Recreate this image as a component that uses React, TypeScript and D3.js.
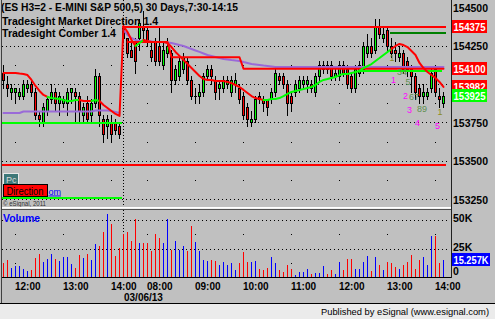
import React from "react";
import * as d3 from "d3";

const W = 495;
const H = 319;
const FONT = "'Liberation Sans', Arial, Helvetica, sans-serif";

const title = "(ES H3=2 - E-MINI S&P 500,5) 30 Days,7:30-14:15";
const study1 = "Tradesight Market Direction 1.4";
const study2 = "Tradesight Comber 1.4";

// 5-minute bars: slots 0-29 = 03/05 11:45-14:10, slots 30-110 = 03/06 07:30-14:10
const open = [
  154075, 154000, 153950, 153950, 153925, 153925, 153975, 154000, 153950, 153800, 153750, 153825, 153900, 153950, 153875,
  153875, 153875, 153950, 153950, 153925, 153800, 153875, 153800, 153875, 154050, 153775, 153725, 153750, 153750, 153725,
  154375, 154300, 154225, 154275, 154300, 154375, 154350, 154225, 154275, 154250, 154125, 154200, 154200, 154025, 154050,
  154100, 154150, 154025, 153925, 153925, 153950, 154050, 154100, 154025, 153975, 153975, 154000, 153950, 154000, 153975,
  153925, 153850, 153750, 153775, 153925, 153900, 153900, 153900, 153950, 154050, 154050, 154000, 153925, 153950, 153975,
  154000, 154000, 154000, 153950, 154050,
  154100, 154125, 154125, 154050, 154050, 154125, 154100, 154050, 153975, 154075, 154100, 154200, 154250, 154225, 154375,
  154300, 154350, 154250, 154225, 154175,
  154200, 154150, 154100, 154050, 153975, 153925, 153925, 153975, 154100, 153925, 153875,
];
const high = [
  154125, 154050, 154000, 153975, 153975, 154025, 154025, 154025, 153975, 153825, 153875, 153925, 154000, 153975, 153950,
  153925, 153975, 153975, 153975, 153950, 153875, 153925, 153900, 154100, 154075, 153800, 153800, 153800, 153775, 153750,
  154400, 154300, 154275, 154300, 154425, 154475, 154375, 154275, 154300, 154375, 154275, 154300, 154225, 154125, 154175,
  154200, 154175, 154050, 153975, 154000, 154075, 154125, 154125, 154050, 154025, 154050, 154050, 154050, 154075, 154000,
  153950, 153875, 153825, 153925, 153950, 153925, 153900, 153975, 154100, 154075, 154075, 154025, 153950, 154025, 154050,
  154050, 154050, 154025, 154075, 154150,
  154150, 154150, 154150, 154100, 154150, 154150, 154125, 154075, 154125, 154150, 154275, 154325, 154300, 154425, 154425,
  154375, 154375, 154300, 154275, 154250,
  154225, 154175, 154125, 154075, 154000, 154000, 153975, 154100, 154125, 153975, 153950,
];
const low = [
  153975, 153925, 153900, 153875, 153900, 153900, 153950, 153925, 153775, 153725, 153725, 153800, 153875, 153825, 153800,
  153850, 153800, 153875, 153750, 153750, 153750, 153750, 153750, 153850, 153725, 153625, 153650, 153625, 153675, 153650,
  154275, 154175, 154175, 154075, 154225, 154275, 154250, 154150, 154125, 154125, 154100, 154175, 153950, 154000, 154025,
  154075, 154000, 153900, 153875, 153875, 153925, 154025, 154000, 153900, 153900, 153950, 153975, 153925, 153950, 153875,
  153775, 153725, 153725, 153750, 153875, 153825, 153800, 153875, 153925, 154000, 153975, 153800, 153825, 153925, 153950,
  153975, 153950, 153950, 153925, 154025,
  154075, 154075, 154025, 154025, 154025, 154050, 153975, 153950, 153950, 154050, 154075, 154175, 154175, 154200, 154300,
  154275, 154225, 154175, 154150, 154150,
  154075, 154050, 153950, 153900, 153875, 153875, 153900, 153950, 153925, 153850, 153850,
];
const close = [
  154025, 153975, 153975, 153975, 153950, 154000, 154000, 153950, 153800, 153775, 153850, 153900, 153950, 153875, 153925,
  153900, 153950, 153975, 153925, 153825, 153850, 153775, 153875, 154050, 153800, 153675, 153775, 153675, 153700, 153675,
  154300, 154200, 154175, 154150, 154400, 154350, 154275, 154175, 154150, 154150, 154225, 154250, 154025, 154100, 154150,
  154175, 154025, 153925, 153925, 153950, 154050, 154100, 154050, 153950, 154000, 154025, 154025, 154025, 154025, 153900,
  153800, 153775, 153775, 153900, 153900, 153875, 153850, 153950, 154075, 154025, 154000, 153875, 153875, 154000, 154025,
  154025, 154025, 153975, 154050, 154125,
  154125, 154100, 154050, 154075, 154125, 154075, 154000, 153975, 154100, 154125, 154250, 154250, 154200, 154375, 154325,
  154325, 154250, 154200, 154200, 154200,
  154100, 154100, 154050, 153950, 153925, 153950, 153950, 154075, 153950, 153900, 153925,
];
// volume in thousands
const volumeK = [
  12.4, 15.3, 8, 9.4, 9.4, 7.4, 5.6, 6.5, 16.8, 20.3, 12.9, 15.9, 20.6, 15.9, 13.8, 17.4, 17.4, 11.8, 7.9, 19.7, 16.8, 20.3,
  15.3, 29.4, 27.1, 39.4, 55.9, 47, 18.8, 25.6,
  38, 40, 32, 51.5, 30, 30, 30, 22.6, 38, 34, 30, 51, 23.5, 31.5, 23.5, 27, 23.2, 44.7, 30.6, 22.6, 14.7, 13.8, 15.3, 13.8,
  10.3, 13.5, 10.3, 12.4, 6.5, 12.4,
  22, 13.2, 13.2, 13.8, 7.4, 6.5, 8, 17.4, 12.4, 5.9, 4.7, 10.9, 7.4, 1.8, 4.7, 4.7, 7.4, 2.9, 3.8, 3.8, 9.4, 2.9, 6.5, 2.9,
  13.2, 5.9, 16.2, 16.2, 7.4, 7.4, 13.2, 18.8, 5.6, 17.4, 10.3, 5.9, 13.2, 12.4, 8.8, 7.4, 10.3, 13.2, 19.7, 6.8, 15.3, 17.4,
  10.3, 36.5, 36.5, 12.4, 15.257,
];
// Tradesight Market Direction line and its colour state (r = down, g = up)
const marketDirection = [
  154073, 154073, 154073, 154073, 154069, 154066, 154059, 154027, 153988, 153955, 153929, 153916, 153909, 153906, 153903,
  153896, 153890, 153890, 153896, 153896, 153890, 153890, 153890, 153896, 153890, 153864, 153844, 153824, 153805, 153792,
  154379, 154340, 154288, 154249, 154268, 154288, 154281, 154275, 154275, 154275, 154275, 154268, 154242, 154210, 154184,
  154157, 154131, 154105, 154079, 154053, 154033, 154027, 154027, 154020, 154020, 154020, 154014, 154007, 153994, 153981,
  153962, 153942, 153922, 153909, 153903, 153896, 153896, 153903, 153903, 153909, 153922, 153936, 153949, 153955, 153962,
  153968, 153975, 153981, 153994, 154014,
  154027, 154033, 154040, 154046, 154059, 154066, 154066, 154073, 154079, 154086, 154105, 154118, 154131, 154151, 154170,
  154190, 154210, 154229, 154249, 154262,
  154255, 154242, 154216, 154190, 154138, 154105, 154079, 154059, 154040, 154014, 153982,
];
const directionState =
  "rrrrrrrrrrrrggggggggrrrggrrrrr" +
  "rrrrgg" +
  "rrrrrrrrrrrrrrrrrrrrrrrrrrrrrr" +
  "gggggggggggggggggggggggggggggggg" +
  "rrrrrrrrrrrrr";
// Tradesight Comber line (purple)
const comber = [
  153811, 153811, 153811, 153811, 153811, 153821, 153821, 153821, 153821, 153821, 153821, 153821, 153821, 153821, 153821,
  153821, 153821, 153821, 153821, 153821, 153821, 153821, 153821, 153828, 153828, 153828, 153828, 153824, 153818, 153811,
  154353, 154321, 154301, 154288, 154281, 154281, 154281, 154278, 154275, 154275, 154275, 154272, 154268, 154262, 154255,
  154249, 154239, 154229, 154219, 154210, 154200, 154190, 154184, 154177, 154170, 154164, 154161, 154157, 154154, 154151,
  154144, 154138, 154131, 154128, 154125, 154121, 154118, 154115, 154112, 154112, 154112, 154112, 154112, 154112, 154112,
  154112, 154112, 154112, 154112, 154112,
  154112, 154112, 154112, 154112, 154112, 154112, 154112, 154112, 154112, 154112, 154112, 154112, 154112, 154112, 154112,
  154112, 154112, 154112, 154112, 154112,
  154112, 154112, 154112, 154112, 154112, 154112, 154112, 154112, 154112, 154112, 154112,
];
// stepped red stop line
const stopLevels = [154275, 154175, 154100];
const stopStarts = [31, 42, 60];

const upperResistance = 154375;
const lowerResistance = 153475;
const priorSupport = 153744;
const priorLow = 153255;
const setupTarget = 154335;
const setupSupport = 154085;

// Comber setup counts (olive) and countdown (magenta); slot positions may sit between bars for paired digits
const setupCounts = ["1", "34", "5", "67", "89", "1"];
const setupSlots = [97, 99.5, 101, 102.5, 104.5, 109];
const setupPrices = [154170, 154076, 154014, 153916, 153838, 153818];
const countdownLabels = ["1", "2", "3", "4", "5"];
const countdownSlots = [98, 101, 102, 104, 109];
const countdownPrices = [154027, 153922, 153831, 153746, 153727];

const priceTicks = [154500, 154250, 153750, 153500, 153250];
const priceGrid = [154250, 154000, 153750, 153500, 153250];
const priceDots = [154375, 154125, 153875, 153625, 153375];
const volTicks = [50, 25, 0];
const volGrid = [50, 25];
const volDots = [37.5, 12.5];
const tickSlots = [3, 15, 27, 36, 48, 60, 72, 84, 96, 108];
const tickLabels = ["12:00", "13:00", "14:00", "08:00", "09:00", "10:00", "11:00", "12:00", "13:00", "14:00"];
const sessionBreakSlot = 30;
const dateLabel = "03/06/13";
const priceTags = [154375, 154100, 153982, 153925];
const lastVolume = 15.257;

export default function App() {
  const n = close.length;
  const x = d3.scaleLinear().domain([0, n - 1]).range([3.5, 443.5]);
  const y = d3.scaleLinear().domain([153250, 154500]).range([199, 7.5]);
  const yv = d3.scaleLinear().domain([0, 50]).range([277, 220.3]);
  const col = (i: number) => Math.floor(x(i));
  const row = (p: number) => Math.round(y(p));
  const idx = d3.range(n);

  const runs: { c: string; pts: number[] }[] = [];
  for (let i = 1; i < n; i++) {
    const c = directionState[i];
    if (!runs.length || runs[runs.length - 1].c !== c) runs.push({ c, pts: [i - 1] });
    runs[runs.length - 1].pts.push(i);
  }
  const maLine = d3.line<number>().x((i) => x(i)).y((i) => y(marketDirection[i]));
  const comberLine = d3.line<number>().x((i) => x(i)).y((i) => y(comber[i]));
  const stopPts: [number, number][] = [];
  stopLevels.forEach((lv, k) => {
    const end = k + 1 < stopStarts.length ? stopStarts[k + 1] - 1 : n - 1;
    for (let i = stopStarts[k]; i <= end; i++) stopPts.push([x(i), y(lv)]);
  });
  const stopLine = d3.line();

  const hLevel = (p: number, a: number, b: number, color: string, key: string) => (
    <rect key={key} x={x(a) - 2} y={row(p) - 1} width={x(b) - x(a) + 4} height={2} fill={color} />
  );

  const tagBox = (fill: string, text: string, yy: number, w: number, key: string) => (
    <g key={key}>
      <rect x={452} y={yy - 6.5} width={w} height={13} fill={fill} />
      <text x={453.5} y={yy + 0.5} dominantBaseline="central" fill="#fff" fontSize={10.5} fontWeight="bold"
        textLength={w - 3} lengthAdjust="spacingAndGlyphs">{text}</text>
    </g>
  );

  return (
    <div style={{ position: "absolute", left: 0, top: 0 }}>
      <svg width={W} height={H} style={{ display: "block" }} fontFamily={FONT} shapeRendering="crispEdges">
        <rect width={W} height={H} fill="#c0c0c0" />
        <rect x={0} y={304} width={W} height={15} fill="#ebebeb" />
        <line x1={0} x2={W} y1={303.5} y2={303.5} stroke="#000" />
        <text x={489} y={311.5} textAnchor="end" dominantBaseline="central" fontSize={9.5} fill="#000"
          textLength={168} lengthAdjust="spacingAndGlyphs">Published by eSignal (www.esignal.com)</text>

        {/* legend texts */}
        <text x={1} y={11} fontSize={11} fontWeight="bold" textLength={237} lengthAdjust="spacingAndGlyphs">{title}</text>
        <text x={2} y={25} fontSize={11} fontWeight="bold" textLength={156} lengthAdjust="spacingAndGlyphs">{study1}</text>
        <text x={2} y={37} fontSize={11} fontWeight="bold" textLength={114} lengthAdjust="spacingAndGlyphs">{study2}</text>

        {/* grid */}
        {priceGrid.map((p) => (
          <line key={"g" + p} x1={2} x2={447} y1={row(p) + 0.5} y2={row(p) + 0.5} stroke="#000" strokeDasharray="1 3" />
        ))}
        {priceDots.map((p) => tickSlots.map((s) => (
          <rect key={"d" + p + "_" + s} x={col(s)} y={row(p)} width={1} height={1} fill="#000" />
        )))}
        {volGrid.map((v) => (
          <line key={"vg" + v} x1={2} x2={447} y1={Math.round(yv(v)) + 0.5} y2={Math.round(yv(v)) + 0.5} stroke="#000" strokeDasharray="1 3" />
        ))}
        {volDots.map((v) => tickSlots.map((s) => (
          <rect key={"vd" + v + "_" + s} x={col(s)} y={Math.round(yv(v))} width={1} height={1} fill="#000" />
        )))}
        <line x1={col(sessionBreakSlot) + 0.5} x2={col(sessionBreakSlot) + 0.5} y1={0} y2={277} stroke="#000" strokeDasharray="1 2" />

        {/* lower-left indicator labels */}
        <text x={48.5} y={194.5} fontSize={9} fill="#0000ff" textDecoration="underline">om</text>
        <rect x={3.5} y={173.5} width={15} height={12} fill="#3d7878" stroke="#e8e8e8" />
        <text x={6} y={180} dominantBaseline="central" fontSize={9} fill="#d8d8d8">Pc</text>
        <rect x={3.5} y={184.5} width={44} height={12} fill="#ff0000" stroke="#000" />
        <text x={6.5} y={191} dominantBaseline="central" fontSize={10} fill="#000" textLength={37} lengthAdjust="spacingAndGlyphs">Direction</text>
        <text x={3} y={203.5} dominantBaseline="central" fontSize={7} fill="#303030" textLength={43} lengthAdjust="spacingAndGlyphs">© eSignal, 2011</text>

        {/* pane separator */}
        <line x1={2} x2={451} y1={207.5} y2={207.5} stroke="#ffffff" />
        <line x1={2} x2={451} y1={208.5} y2={208.5} stroke="#f0f0f0" />
        <line x1={2} x2={451} y1={209.5} y2={209.5} stroke="#505050" />
        <text x={3} y={222} fontSize={11} fontWeight="bold" fill="#0000ff" textLength={37} lengthAdjust="spacingAndGlyphs">Volume</text>

        {/* volume bars */}
        {idx.map((i) => {
          const top = Math.round(yv(volumeK[i]));
          return <rect key={"v" + i} x={col(i)} y={top} width={1} height={277 - top}
            fill={close[i] >= open[i] ? "#0000ff" : "#ff0000"} />;
        })}

        {/* candles */}
        {idx.map((i) => {
          const c = col(i);
          const hi = row(high[i]);
          const lo = row(low[i]);
          const t = row(Math.max(open[i], close[i]));
          const b = row(Math.min(open[i], close[i]));
          const up = close[i] >= open[i];
          return (
            <g key={"c" + i}>
              <rect x={c} y={hi} width={1} height={lo - hi + 1} fill="#000" />
              <rect x={c - 1} y={t} width={3} height={b - t + 1} fill="#000" />
              {b - t - 1 > 0 && <rect x={c} y={t + 1} width={1} height={b - t - 1} fill={up ? "#00ff00" : "#ff0000"} />}
            </g>
          );
        })}

        {/* levels */}
        {hLevel(lowerResistance, 0, n - 1, "#ff0000", "lr")}
        {hLevel(priorSupport, 0, 29, "#00ff00", "ps")}
        {hLevel(priorLow, 0, 29, "#00ff00", "pl")}
        {hLevel(setupSupport, 89, 109, "#00ff00", "ss")}
        {hLevel(setupTarget, 97, n - 1, "#008000", "st")}
        {hLevel(upperResistance, 30, n - 1, "#ff0000", "ur")}

        <g shapeRendering="auto" fill="none" strokeLinejoin="round" strokeLinecap="round">
          <path d={comberLine(d3.range(0, 30)) || ""} stroke="#9a6ad8" strokeWidth={2} />
          <path d={comberLine(d3.range(30, n)) || ""} stroke="#9a6ad8" strokeWidth={2} />
          <path d={stopLine(stopPts) || ""} stroke="#ff0000" strokeWidth={2} />
          {runs.map((r, k) => (
            <path key={"ma" + k} d={maLine(r.pts) || ""} stroke={r.c === "g" ? "#00ff00" : "#ff0000"} strokeWidth={2} />
          ))}
        </g>

        {/* counts */}
        <g shapeRendering="auto">
          {setupCounts.map((t, k) => (
            <text key={"sc" + k} x={x(setupSlots[k]) + 0.5} y={y(setupPrices[k])} textAnchor="middle" dominantBaseline="central"
              fontSize={9} fill={t === "1" ? "#8c8c1e" : "#5e8f4e"}>{t}</text>
          ))}
          {countdownLabels.map((t, k) => (
            <text key={"cd" + k} x={x(countdownSlots[k]) - 2} y={y(countdownPrices[k])} textAnchor="middle" dominantBaseline="central"
              fontSize={9} fill="#ff00ff">{t}</text>
          ))}
        </g>

        {/* frame */}
        <line x1={1.5} x2={1.5} y1={0} y2={303} stroke="#404040" />
        <line x1={451.5} x2={451.5} y1={0} y2={278} stroke="#202020" />
        <line x1={2} x2={451} y1={277.5} y2={277.5} stroke="#000" />

        {/* right axis */}
        {priceTicks.map((p) => (
          <text key={"pt" + p} x={453} y={y(p) + 0.5} dominantBaseline="central" fontSize={10.5} fontWeight="bold">{p}</text>
        ))}
        {tagBox("#ff0000", String(priceTags[0]), y(priceTags[0]), 35, "t0")}
        {tagBox("#ff0000", String(priceTags[1]), y(priceTags[1]), 35, "t1")}
        {tagBox("#ff0000", String(priceTags[2]), y(priceTags[2]), 35, "t2")}
        {tagBox("#00ff00", String(priceTags[3]), y(priceTags[3]), 35, "t3")}
        {volTicks.map((v) => (
          <text key={"vt" + v} x={453} y={yv(v) - (v === 0 ? 6 : 2)} dominantBaseline="central" fontSize={10.5} fontWeight="bold">
            {v === 0 ? "0" : v + "K"}
          </text>
        ))}
        {tagBox("#0000ff", lastVolume + "K", yv(lastVolume), 38, "tv")}

        {/* time axis */}
        {tickSlots.map((s, k) => (
          <text key={"tt" + k} x={col(s)} y={286} dominantBaseline="central" fontSize={10} fontWeight="bold">{tickLabels[k]}</text>
        ))}
        <text x={col(sessionBreakSlot) + 1} y={297.5} dominantBaseline="central" fontSize={10} fontWeight="bold">{dateLabel}</text>
      </svg>
    </div>
  );
}
